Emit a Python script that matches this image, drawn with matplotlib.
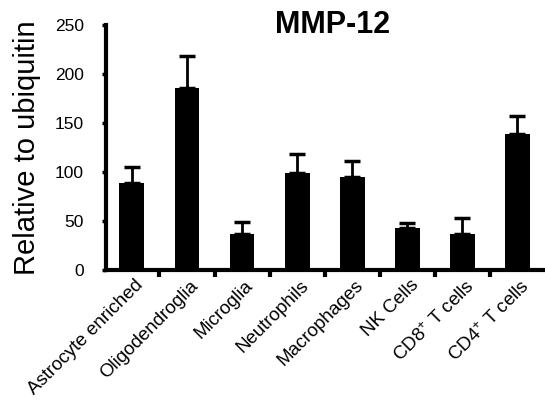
import numpy as np
import matplotlib
matplotlib.use("Agg")
import matplotlib.pyplot as plt

plt.rcParams['font.family'] = ['Liberation Sans', 'DejaVu Sans']
plt.rcParams['mathtext.fontset'] = 'custom'
plt.rcParams['mathtext.rm'] = 'Liberation Sans'
plt.rcParams['mathtext.it'] = 'Liberation Sans'

# data
cell_types = ["Astrocyte enriched", "Oligodendroglia", "Microglia", "Neutrophils",
              "Macrophages", "NK Cells", r"CD8$^{+}$ T cells", r"CD4$^{+}$ T cells"]
means = [89, 186, 37, 99, 95, 43, 37, 139]
errors = [16, 32, 12, 19, 16, 5, 16, 18]
y_ticks = [0, 50, 100, 150, 200, 250]

fig = plt.figure(figsize=(5.45, 4.07), dpi=100)
ax = fig.add_axes([0.1945, 0.3366, 0.8055, 0.602])

x = np.arange(len(means))
ax.bar(x, means, width=0.45, color='black', zorder=2)
ax.errorbar(x, means, yerr=[np.zeros(len(errors)), errors], fmt='none',
            ecolor='black', elinewidth=2, capsize=5.5, capthick=2.5, zorder=1)

ax.set_xlim(-0.47, 7.5)
ax.set_ylim(0, 250)
ax.set_yticks(y_ticks)
ax.tick_params(axis='y', direction='out', length=3, width=2.5, labelsize=12.5, pad=13)

ax.set_xticks(x + 0.05)
ax.set_xticklabels(cell_types, rotation=45, ha='right', rotation_mode='anchor', fontsize=13.5)
ax.tick_params(axis='x', which='major', length=0, pad=5)
ax.set_xticks(np.arange(0.5, len(means) - 0.5, 1), minor=True)
ax.tick_params(axis='x', which='minor', direction='out', length=5, width=3)

for side in ['top', 'right']:
    ax.spines[side].set_visible(False)
for side in ['left', 'bottom']:
    ax.spines[side].set_linewidth(3)

ax.set_ylabel("Relative to ubiquitin", fontsize=21, labelpad=10)
fig.text(0.611, 1 - 33 / 407, "MMP-12", fontsize=22, fontweight='bold',
         ha='center', va='baseline')

fig.savefig("out.png", dpi=100)
